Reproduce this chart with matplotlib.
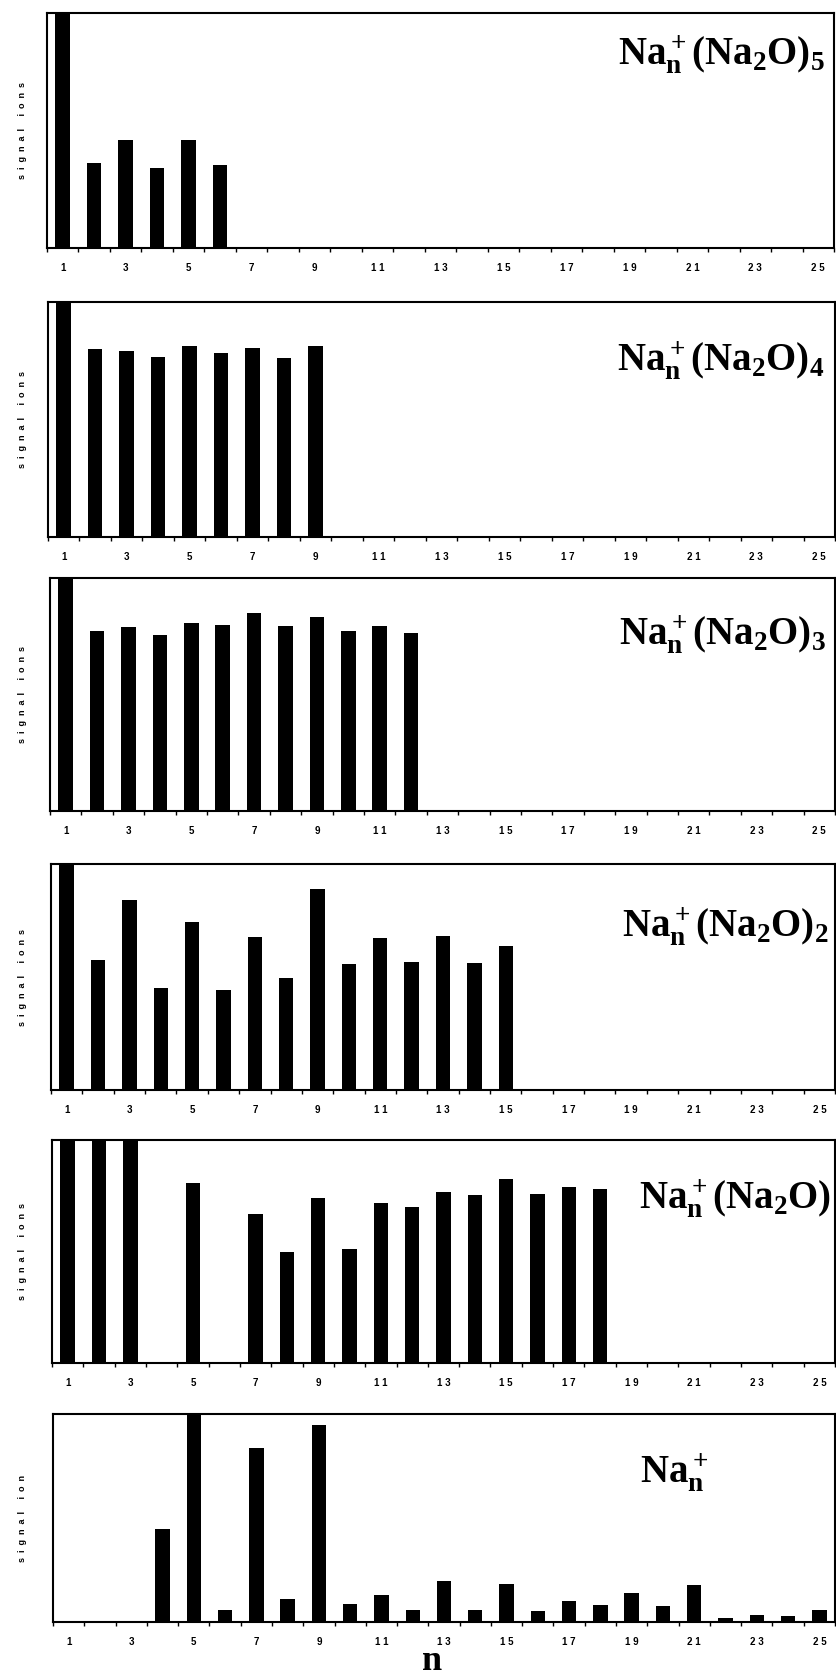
import numpy as np
import matplotlib
matplotlib.use('Agg')
import matplotlib.pyplot as plt

plt.rcParams['mathtext.fontset'] = 'custom'
plt.rcParams['mathtext.rm'] = 'Liberation Serif:bold'
plt.rcParams['mathtext.it'] = 'Liberation Serif:bold'
plt.rcParams['mathtext.bf'] = 'Liberation Serif:bold'

W, H = 837, 1677

n = list(range(1, 26))

sig_na2o_5 = [1.0, 0.361, 0.460, 0.339, 0.460, 0.355] + [0] * 19
sig_na2o_4 = [1.0, 0.800, 0.792, 0.764, 0.812, 0.784, 0.806, 0.762, 0.812] + [0] * 16
sig_na2o_3 = [1.0, 0.771, 0.789, 0.756, 0.805, 0.798, 0.849, 0.793, 0.832,
              0.771, 0.795, 0.765] + [0] * 13
sig_na2o_2 = [1.0, 0.574, 0.841, 0.451, 0.742, 0.443, 0.677, 0.495, 0.890,
              0.557, 0.673, 0.566, 0.680, 0.564, 0.639] + [0] * 10
sig_na2o_1 = [1.0, 1.0, 1.0, 0, 0.809, 0, 0.666, 0.496, 0.742, 0.509, 0.719,
              0.701, 0.767, 0.752, 0.825, 0.758, 0.790, 0.782] + [0] * 7
sig_na = [0, 0, 0, 0.446, 1.0, 0.058, 0.838, 0.111, 0.947, 0.088, 0.129, 0.058,
          0.195, 0.059, 0.185, 0.051, 0.101, 0.083, 0.141, 0.075, 0.180, 0.019,
          0.034, 0.029, 0.056]

titles = [r'$\mathbf{Na_n^+(Na_2O)_5}$',
          r'$\mathbf{Na_n^+(Na_2O)_4}$',
          r'$\mathbf{Na_n^+(Na_2O)_3}$',
          r'$\mathbf{Na_n^+(Na_2O)_2}$',
          r'$\mathbf{Na_n^+(Na_2O)}$',
          r'$\mathbf{Na_n^+}$']
series = [sig_na2o_5, sig_na2o_4, sig_na2o_3, sig_na2o_2, sig_na2o_1, sig_na]
ylabels = ['s  i  g  n  a  l     i  o  n  s'] * 5 + ['s  i  g  n  a  l     i  o  n']

# layout in pixels: left, top, right, bottom
rects = [(47, 13, 834, 248), (48, 302, 835, 537), (50, 578, 835, 811),
         (51, 864, 835, 1090), (52, 1140, 835, 1363), (53, 1414, 835, 1622)]
title_pos = [(618, 65), (617, 370), (619, 645), (622, 937), (639, 1208), (640, 1483)]

fig = plt.figure(figsize=(W / 100, H / 100), dpi=100)

for vals, title, ylab, (l, t, r, b), (tx, ty) in zip(series, titles, ylabels, rects, title_pos):
    ax = fig.add_axes([l / W, 1 - b / H, (r - l) / W, (b - t) / H])
    ax.bar(n, vals, width=0.46, color='black')
    ax.set_xlim(0.5, 25.5)
    ax.set_ylim(0, 1)
    ax.set_yticks([])
    odd = list(range(1, 26, 2))
    ax.set_xticks(odd)
    ax.set_xticklabels([' '.join(str(k)) for k in odd], fontsize=7,
                       fontweight='bold', family='Liberation Sans')
    ax.set_xticks(np.arange(0.5, 25.6, 1), minor=True)
    ax.tick_params(axis='x', which='major', length=0, pad=11)
    ax.tick_params(axis='x', which='minor', length=3, width=1, direction='out')
    for sp in ax.spines.values():
        sp.set_linewidth(1.5)
    fig.text(23 / W, 1 - ((t + b) / 2) / H, ylab, rotation=90, fontsize=6.5,
             fontweight='bold', family='Liberation Sans', ha='center', va='center')
    fig.text(tx / W, 1 - ty / H, title, fontsize=28, ha='left', va='baseline')

fig.text(432 / W, 1 - 1670 / H, 'n', fontsize=26, family='Liberation Serif',
         fontweight='bold', ha='center', va='baseline')

fig.savefig('out.png', dpi=100)
